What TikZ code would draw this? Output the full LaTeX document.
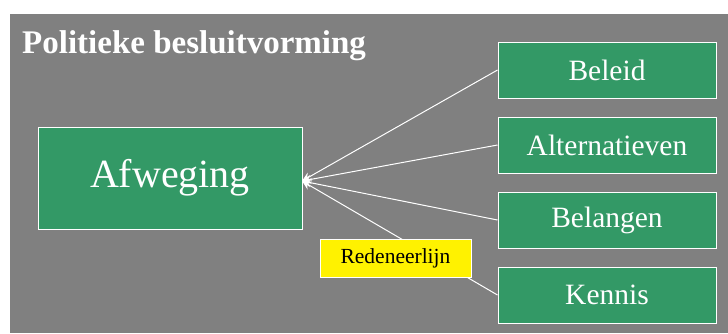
\documentclass[tikz,border=0pt]{standalone}
\usepackage{fontspec}
\setmainfont{Liberation Serif}
\usetikzlibrary{arrows.meta}
\definecolor{bggray}{RGB}{128,128,128}
\definecolor{boxgreen}{RGB}{51,153,102}
\begin{document}
\begin{tikzpicture}[x=1pt,y=-1pt,
  gbox/.style={draw=white,line width=1pt,fill=boxgreen,text=white,inner sep=0pt,
    minimum width=218pt,minimum height=56pt,font=\fontsize{29.5}{32}\selectfont},
  conn/.style={draw=white,line width=1pt,-{Stealth[length=9pt,width=9pt]}}]
\useasboundingbox (0,0) rectangle (728,333);
\fill[white] (0,0) rectangle (728,333);
\fill[bggray] (10,14) rectangle (728,333);
\node[anchor=base west,inner sep=0pt,text=white,font=\fontsize{33}{35}\selectfont\bfseries] (title) at (22,53) {Politieke besluitvorming};
\node[gbox,minimum width=264pt,minimum height=102pt,font=\fontsize{40}{42}\selectfont] (afw) at (170,178) {Afweging};
\node[gbox] (bel) at (607,70) {Beleid};
\node[gbox] (alt) at (607,145) {Alternatieven};
\node[gbox] (blg) at (607,220) {Belangen};
\node[gbox] (ken) at (607,295) {Kennis};
\coordinate (tip) at (302,181);
\draw[conn] (bel.west) -- (tip);
\draw[conn] (alt.west) -- (tip);
\draw[conn] (blg.west) -- (tip);
\draw[conn] (ken.west) -- (tip);
\node[draw=white,line width=1pt,fill=yellow,text=black,inner sep=0pt,minimum width=151pt,minimum height=38pt,font=\fontsize{21.5}{23}\selectfont] (red) at (395.5,258) {Redeneerlijn};
\end{tikzpicture}
\end{document}
